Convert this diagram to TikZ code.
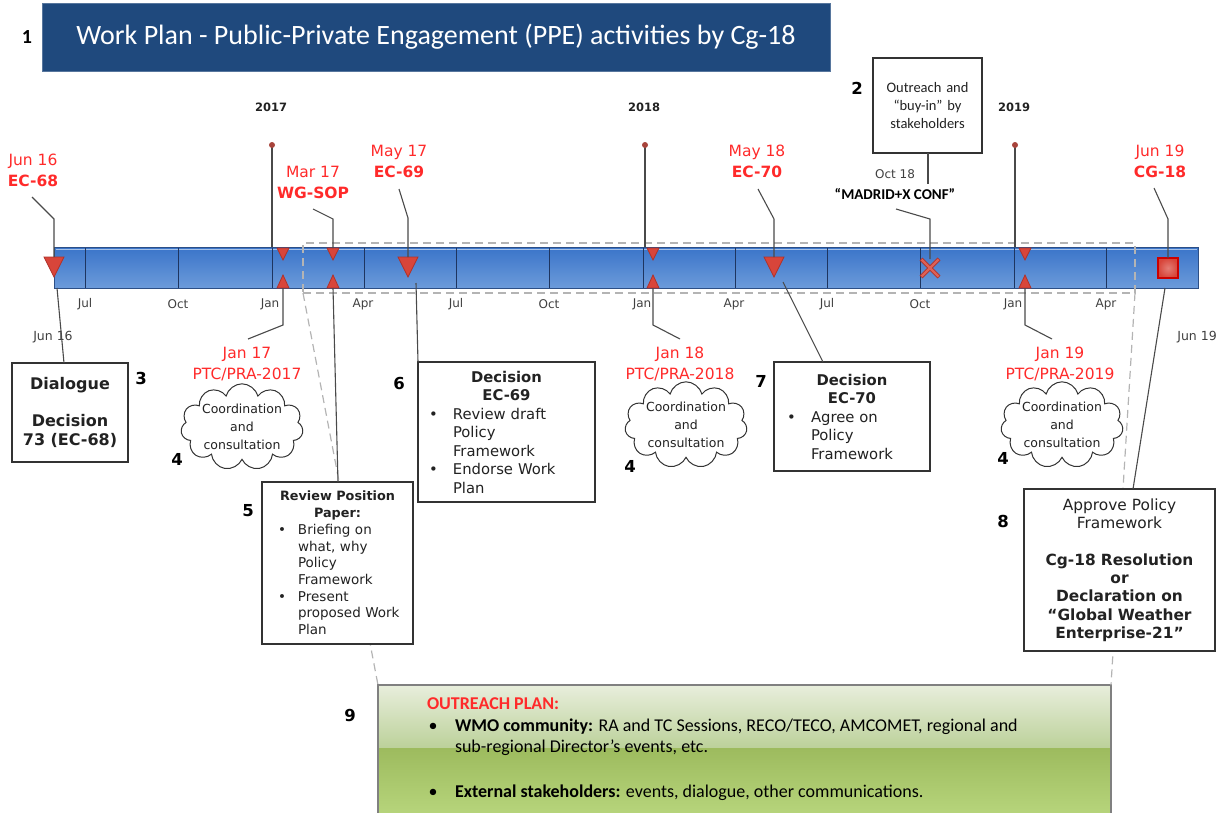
\documentclass[tikz,border=0pt]{standalone}
\usepackage{fontspec}
\setmainfont{DejaVu Sans}
\newfontfamily\calfont{Carlito}
\usetikzlibrary{shapes.symbols,calc}
\definecolor{titleblue}{HTML}{1F497D}
\definecolor{bartop}{HTML}{3A74C9}
\definecolor{barbot}{HTML}{6C9BDA}
\definecolor{barline}{HTML}{2D4F86}
\definecolor{divline}{HTML}{1E3560}
\definecolor{evred}{HTML}{FF2A2A}
\definecolor{trired}{HTML}{D8453A}
\definecolor{triedge}{HTML}{B0322A}
\definecolor{leader}{HTML}{4A4A4A}
\definecolor{dashgrey}{HTML}{B4B4B4}
\definecolor{greenA}{HTML}{E8EEDC}
\definecolor{greenB}{HTML}{BCD19A}
\definecolor{greenC}{HTML}{9DBB5E}
\definecolor{greenD}{HTML}{B9D77E}
\definecolor{dotred}{HTML}{A8443C}
\definecolor{txt}{HTML}{222222}
\definecolor{greytxt}{HTML}{404040}
\definecolor{boxedge}{HTML}{333333}
\newcommand{\fs}[2]{\fontsize{#1}{#2}\selectfont}
\newcommand{\bitem}[3]{\par\noindent\hangindent=#2\hangafter=1\makebox[#2][l]{\hspace*{#1}\textbullet}#3\par}
\begin{document}
\begin{tikzpicture}[x=1pt,y=-1pt,
  every node/.style={inner sep=0pt, outer sep=0pt, text=txt},
  lead/.style={draw=leader, line width=1.1pt},
  evlab/.style={text=evred, font=\fs{15.5}{20}},
  evbold/.style={text=evred, font=\bfseries\fs{15.5}{20}},
  month/.style={text=greytxt, font=\fs{12}{14}},
  yearlab/.style={font=\bfseries\fs{11.5}{13}},
  num/.style={text=black, font=\bfseries\fs{16.5}{18}},
  bx/.style={draw=boxedge, line width=1.2pt, fill=white, anchor=north west,
    execute at begin node=\setlength{\parindent}{0pt}},
  cld/.style={cloud, cloud puffs=11, cloud ignores aspect, minimum width=118pt,
    minimum height=70pt, draw=boxedge, line width=1pt, fill=white, align=center,
    font=\fs{12.5}{18}},
  trimark/.style={fill=trired, draw=triedge, line width=0.8pt},
  dsh/.style={draw=dashgrey, line width=1.2pt, dash pattern=on 8pt off 5pt},
]
\useasboundingbox (0,0) rectangle (1225,812);

% ---- title
\node[anchor=north west, fill=titleblue, draw=titleblue!75!white, line width=1pt,
  minimum width=788pt, minimum height=68pt, text=white, font=\calfont\fs{28}{30}]
  (title) at (42,3) {Work Plan - Public-Private Engagement (PPE) activities by Cg-18};
\node[font=\calfont\bfseries\fs{20}{22}, text=black] (n1) at (27,37) {1};

% ---- outreach plan box
\shade[top color=greenA, bottom color=greenB] (378,685) rectangle (1111,748);
\shade[top color=greenC, bottom color=greenD] (378,748) rectangle (1111,820);
\node[anchor=north west, draw=gray, line width=1.2pt, minimum width=733pt,
  minimum height=135pt] (ob) at (378,685) {};

% ---- timeline bar
\shade[top color=bartop, bottom color=barbot, draw=barline, line width=1pt]
  (54,247) rectangle (1198,288);
\draw[white!55!bartop, line width=1.2pt] (55.5,249.5) -- (1196.5,249.5);
\foreach \x in {85,178,272,364,456,549,643,735,827,920,1014,1106}
  \draw[divline, line width=1pt] (\x,247.5) -- (\x,287.5);

% ---- dashed selection + projection to outreach box
\node[anchor=north west, dsh, minimum width=832pt, minimum height=50pt] (dr) at (303,243) {};
\draw[dsh] (dr.south west) -- (ob.north west);
\draw[dsh] (dr.south east) -- (ob.north east);

% ---- month labels
\foreach \x/\m in {85/Jul,178/Oct,270/Jan,363/Apr,456/Jul,549/Oct,642/Jan,734/Apr,827/Jul,920/Oct,1013/Jan,1106/Apr}
  \node[month] at (\x,304) {\m};

% ---- years
\node[yearlab] (y17) at (271,107) {2017};
\node[yearlab] (y18) at (644,107) {2018};
\node[yearlab] (y19) at (1014,107) {2019};
\coordinate (y17dot) at (272,145); \coordinate (y17bar) at (272,247);
\coordinate (y18dot) at (645,145); \coordinate (y18bar) at (645,247);
\coordinate (y19dot) at (1015,145); \coordinate (y19bar) at (1015,247);
\draw[lead] (y17dot) -- (y17bar);
\draw[lead] (y18dot) -- (y18bar);
\draw[lead] (y19dot) -- (y19bar);
\fill[dotred] (y17dot) circle (3pt);
\fill[dotred] (y18dot) circle (3pt);
\fill[dotred] (y19dot) circle (3pt);

% ---- markers
\foreach \x in {54,408,774}
  \filldraw[trimark] (\x-10,257) -- (\x+10,257) -- (\x,277) -- cycle;
\foreach \x in {283,333,653,1025}{
  \filldraw[trimark] (\x-6,248) -- (\x+6,248) -- (\x,260) -- cycle;
  \filldraw[trimark] (\x-6,288) -- (\x+6,288) -- (\x,275) -- cycle;
}
\draw[triedge, line width=4pt] (921,259) -- (939,277) (921,277) -- (939,259);
\draw[trired!85!white, line width=2.2pt] (921.5,259.5) -- (938.5,276.5) (921.5,276.5) -- (938.5,259.5);
\shade[inner color=trired!70!white, outer color=trired]
  (1158,258) rectangle (1178,278);
\draw[red!80!black, line width=1.2pt] (1158,258) rectangle (1178,278);

% ---- leader coordinates (above)
\coordinate (m68) at (54,257);  \coordinate (k68) at (54,219);  \coordinate (l68) at (32,197);
\coordinate (mWG) at (333,248); \coordinate (kWG) at (333,219); \coordinate (lWG) at (313,209);
\coordinate (m69) at (408,257); \coordinate (k69) at (408,218); \coordinate (l69) at (399,189);
\coordinate (m70) at (774,257); \coordinate (k70) at (774,219); \coordinate (l70) at (758,189);
\coordinate (mX) at (930,259);  \coordinate (kX) at (930,219);  \coordinate (lX) at (896,209);
\coordinate (mCG) at (1168,258); \coordinate (kCG) at (1168,219); \coordinate (lCG) at (1154,188);
\draw[lead] (l68) -- (k68) -- (m68);
\draw[lead] (lWG) -- (kWG) -- (mWG);
\draw[lead] (l69) -- (k69) -- (m69);
\draw[lead] (l70) -- (k70) -- (m70);
\draw[lead] (lX) -- (kX) -- (mX);
\draw[lead] (lCG) -- (kCG) -- (mCG);

% ---- labels above
\node[evlab] (t68a) at (33,161) {Jun 16};   \node[evbold] (t68b) at (33,181) {EC-68};
\node[evlab] (tWGa) at (313,172) {Mar 17};  \node[evbold] (tWGb) at (313,193) {WG-SOP};
\node[evlab] (t69a) at (399,152) {May 17};  \node[evbold] (t69b) at (399,172) {EC-69};
\node[evlab] (t70a) at (757,152) {May 18};  \node[evbold] (t70b) at (757,172) {EC-70};
\node[evlab] (tCGa) at (1160,152) {Jun 19}; \node[evbold] (tCGb) at (1160,172) {CG-18};
\node[text=greytxt, font=\fs{12}{14}] (toct) at (895,174) {Oct 18};
\node[text=black, font=\calfont\bfseries\fs{15}{16}] (tmad) at (895,194) {“MADRID+X CONF”};

% ---- box 2
\node[bx, text width=101pt, inner xsep=4pt, minimum height=95pt, align=center,
  font=\calfont\fs{14.5}{18.3}] (b2) at (873,58) {Outreach and\\“buy-in” by\\stakeholders};
\coordinate (lOct) at (928,184);
\draw[lead] ($(b2.south west)+(55,0)$) -- (lOct);
\node[num] (n2) at (857,88) {2};

% ---- below labels
\node[text=greytxt, font=\fs{12.5}{14}] (j16) at (53,337) {Jun 16};
\node[text=greytxt, font=\fs{12.5}{14}] (j19) at (1197,337) {Jun 19};
\node[evlab] (p17a) at (247,354) {Jan 17};  \node[evlab] (p17b) at (247,374) {PTC/PRA-2017};
\node[evlab] (p18a) at (680,354) {Jan 18};  \node[evlab] (p18b) at (680,374) {PTC/PRA-2018};
\node[evlab] (p19a) at (1060,354) {Jan 19}; \node[evlab] (p19b) at (1060,374) {PTC/PRA-2019};

\coordinate (d17) at (283,288); \coordinate (e17) at (283,325); \coordinate (f17) at (248,339);
\coordinate (d18) at (653,288); \coordinate (e18) at (653,325); \coordinate (f18) at (680,339);
\coordinate (d19) at (1025,288); \coordinate (e19) at (1025,325); \coordinate (f19) at (1052,339);
\draw[lead] (d17) -- (e17) -- (f17);
\draw[lead] (d18) -- (e18) -- (f18);
\draw[lead] (d19) -- (e19) -- (f19);

% ---- clouds
\node[cld] (c1) at (242,427) {Coordination\\and\\consultation};
\node[cld] (c2) at (686,425) {Coordination\\and\\consultation};
\node[cld] (c3) at (1062,425) {Coordination\\and\\consultation};

% ---- box 3
\node[bx, text width=104pt, inner xsep=6pt, minimum height=99pt, align=center,
  font=\bfseries\fs{16}{18.5}] (b3) at (12,363) {Dialogue\\[18.5pt]Decision\\73 (EC-68)};
% ---- box 5
\node[bx, text width=139pt, inner xsep=6pt, minimum height=162pt,
  font=\fs{13.5}{16.7}] (b5) at (262,482)
  {{\centering\bfseries\fs{12.8}{16.7}Review Position\par Paper:\par}%
   \bitem{10pt}{30pt}{Briefing on\newline what, why\newline Policy\newline Framework}%
   \bitem{10pt}{30pt}{Present\newline proposed Work\newline Plan}};
% ---- box 6
\node[bx, text width=165pt, inner xsep=6pt, minimum height=140pt,
  font=\fs{14.8}{18.5}] (b6) at (418,362)
  {{\centering\bfseries Decision\par EC-69\par}%
   \bitem{5pt}{29pt}{Review draft\newline Policy\newline Framework}%
   \bitem{5pt}{29pt}{Endorse Work\newline Plan}};
% ---- box 7
\node[bx, text width=144pt, inner xsep=6pt, minimum height=109pt,
  font=\fs{14.8}{18.5}] (b7) at (774,362)
  {{\centering\bfseries Decision\par EC-70\par}%
   \bitem{7pt}{31pt}{Agree on\newline Policy\newline Framework}};
% ---- box 8
\node[bx, text width=181pt, inner xsep=5pt, minimum height=162pt, align=center,
  font=\fs{15.4}{18.3}] (b8) at (1024,489)
  {Approve Policy\\Framework\\[18.3pt]{\bfseries Cg-18 Resolution\\or\\Declaration on\\“Global Weather\\Enterprise-21”}};

% ---- connectors below bar to boxes
\coordinate (d68) at (57,288);
\coordinate (dWG) at (333,288);
\coordinate (d69) at (416,283);
\coordinate (d70) at (783,282);
\coordinate (dCG) at (1165,288);
\draw[lead] (d68) -- ($(b3.north west)+(52,0)$);
\draw[lead] (dWG) -- ($(b5.north west)+(76,0)$);
\draw[lead] (d69) -- (b6.north west);
\draw[lead] (d70) -- ($(b7.north west)+(49,0)$);
\draw[lead] (dCG) -- ($(b8.north west)+(109,0)$);

% ---- numbers
\node[num] (n3) at (141,378) {3};
\node[num] (n4a) at (177,459) {4};
\node[num] (n5) at (248,511) {5};
\node[num] (n6) at (399,383) {6};
\node[num] (n4b) at (630,466) {4};
\node[num] (n7) at (761,381) {7};
\node[num] (n4c) at (1003,458) {4};
\node[num] (n8) at (1003,521) {8};
\node[num] (n9) at (350,715) {9};

% ---- outreach text
\node[anchor=west, text=evred, font=\calfont\bfseries\fs{18}{20}] (ohead) at (427,704) {OUTREACH PLAN:};
\node[font=\calfont\fs{18}{20}, text=black] (ob1) at (433,727) {\textbullet};
\node[anchor=west, font=\calfont\fs{18}{20}, text=black] (ot1) at (455,727)
  {\textbf{WMO community:} RA and TC Sessions, RECO/TECO, AMCOMET, regional and};
\node[anchor=west, font=\calfont\fs{18}{20}, text=black] (ot2) at (455,748)
  {sub-regional Director’s events, etc.};
\node[font=\calfont\fs{18}{20}, text=black] (ob2) at (433,793) {\textbullet};
\node[anchor=west, font=\calfont\fs{18}{20}, text=black] (ot3) at (455,793)
  {\textbf{External stakeholders:} events, dialogue, other communications.};
\end{tikzpicture}
\end{document}
